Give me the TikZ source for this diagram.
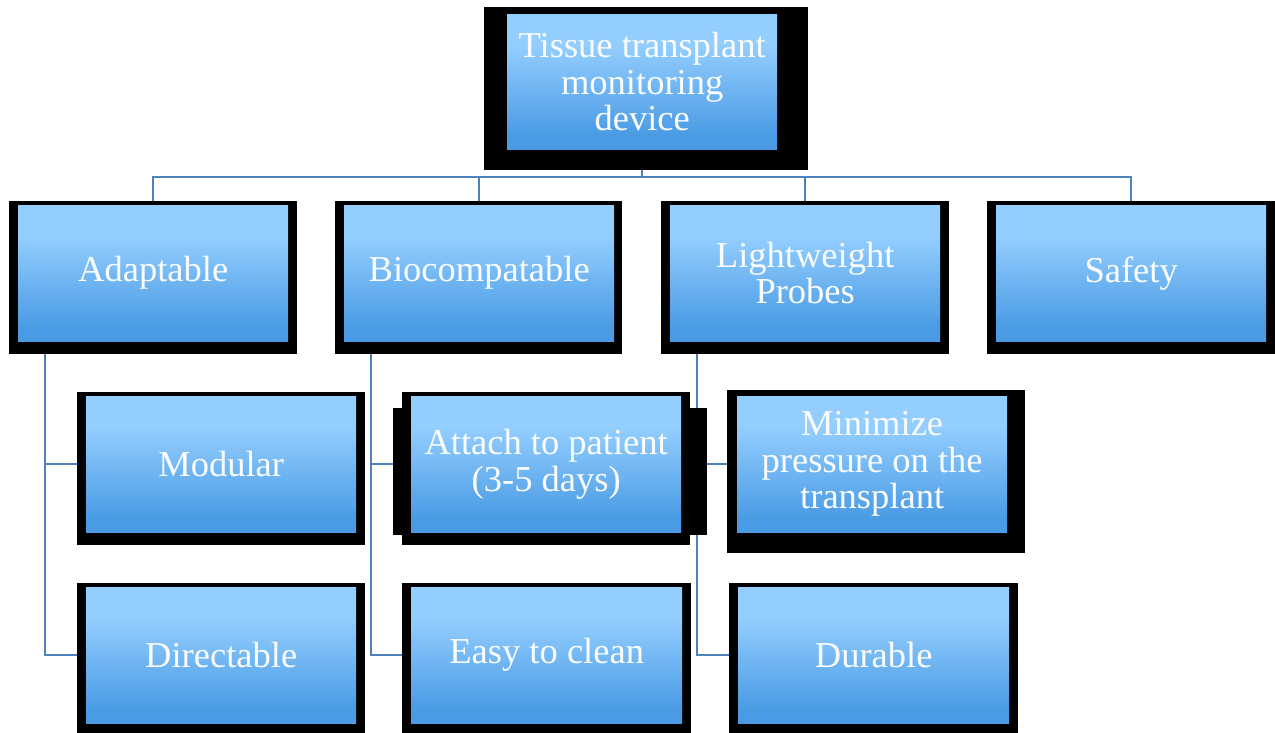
\documentclass[tikz,border=0pt]{standalone}
\usepackage{fontspec}
\setmainfont{Liberation Serif}
\usetikzlibrary{calc,backgrounds}
\definecolor{gtop}{RGB}{148,206,255}
\definecolor{gbot}{RGB}{74,155,228}
\definecolor{linkc}{RGB}{79,129,189}
\definecolor{txtc}{RGB}{250,252,255}
\pgfdeclareverticalshading{boxgrad}{100bp}{color(0bp)=(gbot); color(30bp)=(gbot); color(64bp)=(gtop); color(100bp)=(gtop)}
\tikzset{
  outerbox/.style={fill=black, draw=none, inner sep=0pt, anchor=north west},
  innerbox/.style={shading=boxgrad, draw=none, inner sep=0pt, anchor=north west,
    minimum width=270pt, minimum height=136pt, text width=262pt, align=flush center,
    text=txtc, font=\fontsize{36.5}{36.5}\selectfont},
  link/.style={draw=linkc, line width=1.6pt}
}
\begin{document}
\begin{tikzpicture}[x=1pt,y=-1pt]
\useasboundingbox (0,0) rectangle (1275,732);
\clip (0,0) rectangle (1275,732);
% top
\node[outerbox, minimum width=324pt, minimum height=163pt] (topO) at (484,7) {};
\node[innerbox, minimum height=135pt] (top) at (507,14) {Tissue transplant\\monitoring\\device};
% row 1
\node[outerbox, minimum width=288pt, minimum height=153pt] (adaptO) at (9,201) {};
\node[innerbox, minimum height=136pt] (adapt) at (18,205) {Adaptable};
\node[outerbox, minimum width=287pt, minimum height=153pt] (bioO) at (335,201) {};
\node[innerbox, minimum height=136pt] (bio) at (344,205) {Biocompatable};
\node[outerbox, minimum width=288pt, minimum height=153pt] (lightO) at (661,201) {};
\node[innerbox, minimum height=136pt] (light) at (670,205) {Lightweight\\Probes};
\node[outerbox, minimum width=288pt, minimum height=153pt] (safeO) at (987,201) {};
\node[innerbox, minimum height=136pt] (safe) at (996,205) {Safety};
% row 2
\node[outerbox, minimum width=288pt, minimum height=153pt] (modO) at (77,392) {};
\node[innerbox] (mod) at (86,396) {Modular};
\node[outerbox, minimum width=288pt, minimum height=153pt] (attO) at (402,392) {};
\node[outerbox, minimum width=314pt, minimum height=127pt] (attS) at (393,408) {};
\node[innerbox] (att) at (411,396) {Attach to patient\\(3-5 days)};
\node[outerbox, minimum width=298pt, minimum height=163pt] (minO) at (727,390) {};
\node[innerbox] (mini) at (737,396) {Minimize\\pressure on the\\transplant};
% row 3
\node[outerbox, minimum width=288pt, minimum height=153pt] (dirO) at (77,583) {};
\node[innerbox] (dir) at (86,587) {Directable};
\node[outerbox, minimum width=289pt, minimum height=153pt] (easyO) at (402,583) {};
\node[innerbox, minimum width=271pt] (easy) at (411,587) {Easy to clean};
\node[outerbox, minimum width=289pt, minimum height=153pt] (durO) at (729,583) {};
\node[innerbox, minimum width=271pt] (dur) at (738,587) {Durable};
\coordinate (bus) at (0,177);
\begin{pgfonlayer}{background}
  \draw[link] (top.south) -- (top.south |- bus) -| (adapt.north);
  \draw[link] (top.south) -- (top.south |- bus) -| (bio.north);
  \draw[link] (top.south) -- (top.south |- bus) -| (light.north);
  \draw[link] (top.south) -- (top.south |- bus) -| (safe.north);
  \draw[link] ($(adapt.south west)+(27,0)$) |- (mod.west);
  \draw[link] ($(adapt.south west)+(27,0)$) |- (dir.west);
  \draw[link] ($(bio.south west)+(27,0)$) |- (att.west);
  \draw[link] ($(bio.south west)+(27,0)$) |- (easy.west);
  \draw[link] ($(light.south west)+(27,0)$) |- (mini.west);
  \draw[link] ($(light.south west)+(27,0)$) |- (dur.west);
\end{pgfonlayer}
\end{tikzpicture}
\end{document}
